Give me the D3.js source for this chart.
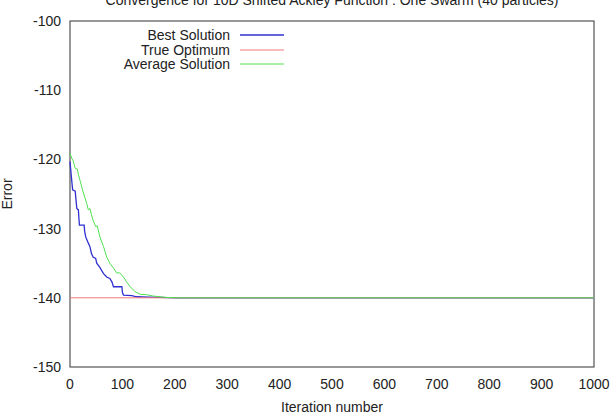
<!DOCTYPE html>
<html>
<head>
<meta charset="utf-8">
<script src="https://cdn.jsdelivr.net/npm/d3@7"></script>
<style>
  body { margin: 0; background: #fff; }
  text { font-family: "Liberation Sans", Arial, sans-serif; fill: #222; }
</style>
</head>
<body>
<svg id="chart" width="612" height="420"></svg>
<script>
// values
const xTicks = [0, 100, 200, 300, 400, 500, 600, 700, 800, 900, 1000];
const yTicks = [-150, -140, -130, -120, -110, -100];

const bestIter = [0, 2, 3, 5, 10, 11, 13, 16, 17, 18, 27, 28, 30, 35, 38, 41, 44, 49, 51, 57, 60, 64, 70, 76, 80, 83, 99, 100, 102, 118, 127, 150, 172, 200, 1000];
const bestVal = [-120.3, -122.0, -122.8, -124.4, -124.6, -125.5, -127.1, -127.3, -128.5, -129.5, -129.5, -130.4, -131.2, -132.1, -132.6, -133.6, -134.1, -134.3, -135.0, -135.6, -136.0, -136.5, -137.0, -137.2, -137.7, -138.4, -138.4, -139.2, -139.6, -139.7, -139.85, -139.9, -139.95, -140, -140];

const avgIter = [0, 3, 6, 10, 14, 16, 19, 25, 32, 35, 38, 41, 44, 49, 52, 57, 64, 70, 76, 83, 89, 95, 102, 108, 115, 124, 134, 146, 159, 185, 210, 1000];
const avgVal = [-119.1, -119.8, -120.2, -121.3, -121.4, -122.2, -123.0, -124.7, -126.4, -127.3, -127.1, -128.0, -128.8, -129.7, -129.6, -131.2, -132.6, -134.1, -135.0, -135.7, -136.4, -136.4, -137.0, -137.7, -138.4, -139.1, -139.5, -139.55, -139.75, -139.95, -140, -140];

const optimumIter = [0, 1000];
const optimumVal = [-140, -140];

const seriesNames = ["Best Solution", "True Optimum", "Average Solution"];
const seriesColors = ["#3030d0", "#f07878", "#50e050"];

const svg = d3.select("#chart");
const m = {left: 70, right: 18, top: 21, bottom: 53};
const W = 612, H = 420;

const x = d3.scaleLinear().domain([0, 1000]).range([m.left, W - m.right]);
const y = d3.scaleLinear().domain([-150, -100]).range([H - m.bottom, m.top]);

// frame
svg.append("rect")
    .attr("x", x(0)).attr("y", y(-100))
    .attr("width", x(1000) - x(0)).attr("height", y(-150) - y(-100))
    .attr("fill", "none").attr("stroke", "#333").attr("stroke-width", 1);

// title (cut off at the top in the reference)
svg.append("text")
    .attr("x", (x(0) + x(1000)) / 2).attr("y", 5)
    .attr("text-anchor", "middle").attr("font-size", 14)
    .text("Convergence for 10D Shifted Ackley Function : One Swarm (40 particles)");

// tick labels
svg.append("g").selectAll("text").data(xTicks).enter().append("text")
    .attr("x", d => x(d)).attr("y", 389)
    .attr("text-anchor", "middle").attr("font-size", 14)
    .text(d => d);

svg.append("g").selectAll("text").data(yTicks).enter().append("text")
    .attr("x", 61).attr("y", d => y(d)).attr("dy", "0.35em")
    .attr("text-anchor", "end").attr("font-size", 14)
    .text(d => d);

// axis titles
svg.append("text")
    .attr("x", (x(0) + x(1000)) / 2).attr("y", 412)
    .attr("text-anchor", "middle").attr("font-size", 14)
    .text("Iteration number");

svg.append("text")
    .attr("transform", `translate(12, ${(y(-100) + y(-150)) / 2}) rotate(-90)`)
    .attr("text-anchor", "middle").attr("font-size", 14)
    .text("Error");

// series
const series = [
    {xs: bestIter, ys: bestVal},
    {xs: optimumIter, ys: optimumVal},
    {xs: avgIter, ys: avgVal}
];
const line = d3.line().x(d => x(d[0])).y(d => y(d[1]));
const widths = [1.3, 1, 1];

series.forEach((s, i) => {
    svg.append("path")
        .datum(d3.zip(s.xs, s.ys))
        .attr("d", line)
        .attr("fill", "none")
        .attr("stroke", seriesColors[i])
        .attr("stroke-width", widths[i]);
});

// legend
const legendY = [35, 50, 64];
const lg = svg.append("g");
seriesNames.forEach((name, i) => {
    lg.append("text")
        .attr("x", 230).attr("y", legendY[i]).attr("dy", "0.35em")
        .attr("text-anchor", "end").attr("font-size", 14)
        .text(name);
    lg.append("line")
        .attr("x1", 240).attr("x2", 284)
        .attr("y1", legendY[i]).attr("y2", legendY[i])
        .attr("stroke", seriesColors[i]).attr("stroke-width", widths[i]);
});
</script>
</body>
</html>
